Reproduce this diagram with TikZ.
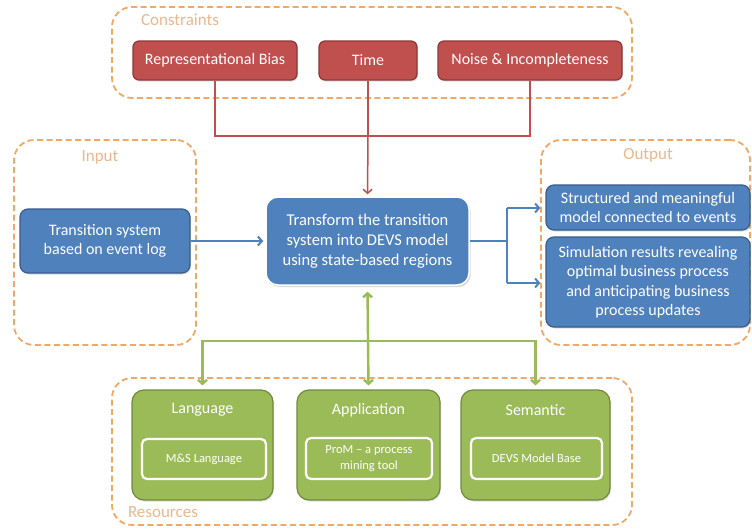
\documentclass[tikz,border=0pt]{standalone}
\usepackage{fontspec}
\setmainfont{Carlito}
\usetikzlibrary{arrows.meta,shadows}
\definecolor{redF}{HTML}{C0504D}
\definecolor{redD}{HTML}{8C3836}
\definecolor{blueF}{HTML}{4F81BD}
\definecolor{blueD}{HTML}{385D8A}
\definecolor{greenF}{HTML}{9BBB59}
\definecolor{greenD}{HTML}{71893F}
\definecolor{orangeD}{HTML}{F0A864}
\definecolor{labelC}{HTML}{E8B890}
\tikzset{
  container/.style={draw=orangeD, line width=1.8pt, dash pattern=on 6pt off 3.5pt, rounded corners=20pt},
  ctitle/.style={text=labelC, font=\fontsize{17}{19}\selectfont, inner sep=0pt},
  redbox/.style={draw=redD, fill=redF, line width=1.2pt, rounded corners=6pt, text=white, font=\fontsize{16}{18}\selectfont, drop shadow={opacity=0.25,shadow xshift=1pt,shadow yshift=-1.5pt}},
  bluebox/.style={draw=blueD, fill=blueF, line width=1.2pt, rounded corners=8pt, text=white, font=\fontsize{16}{19.5}\selectfont, align=center, inner sep=1pt, drop shadow={opacity=0.25,shadow xshift=1pt,shadow yshift=-1.5pt}},
  centerbox/.style={draw=white, fill=blueF, line width=1.5pt, rounded corners=12pt, text=white, font=\fontsize{16.5}{20}\selectfont, align=center, drop shadow={opacity=0.3,shadow xshift=1.5pt,shadow yshift=-2pt}},
  greenbox/.style={draw=greenD, fill=greenF, line width=1.2pt, rounded corners=12pt, drop shadow={opacity=0.25,shadow xshift=1pt,shadow yshift=-1.5pt}},
  innerbox/.style={draw=white, fill=greenF, line width=2.2pt, rounded corners=5pt, text=white, font=\fontsize{12.5}{16}\selectfont, align=center, inner sep=1pt},
  gtitle/.style={text=white, font=\fontsize{16}{18}\selectfont, inner sep=0pt},
  redline/.style={draw=redF, line width=1.5pt},
  blueline/.style={draw=blueF, line width=2pt},
  greenline/.style={draw=greenF, line width=2.4pt},
  tip/.style={-{Straight Barb[length=4pt,width=9pt]}},
  bitip/.style={{Straight Barb[length=4pt,width=9pt]}-{Straight Barb[length=4pt,width=9pt]}},
}
\begin{document}
\begin{tikzpicture}[x=1pt,y=-1pt]
\useasboundingbox (0,0) rectangle (752,530);
\fill[white] (0,0) rectangle (752,530);

% containers
\node[container, minimum width=520pt, minimum height=91pt] (cons) at (372,52.5) {};
\node[container, minimum width=182pt, minimum height=205pt] (inp) at (105,242.5) {};
\node[container, minimum width=209pt, minimum height=205pt] (outp) at (645.5,242.5) {};
\node[container, minimum width=520pt, minimum height=147pt] (res) at (372,451.5) {};

\node[ctitle] (tcons) at (180,20) {Constraints};
\node[ctitle] (tinp) at (100,157) {Input};
\node[ctitle] (toutp) at (648,155) {Output};
\node[ctitle] (tres) at (163,512) {Resources};

% red boxes
\node[redbox, minimum width=164pt, minimum height=39pt] (rb) at (215,60.5) {Representational Bias};
\node[redbox, minimum width=98pt, minimum height=39pt] (time) at (368,60.5) {Time};
\node[redbox, minimum width=184pt, minimum height=39pt] (noise) at (530,60.5) {Noise \& Incompleteness};

% blue boxes
\node[bluebox, minimum width=170pt, minimum height=64pt] (ts) at (105,241) {Transition system\\based on event log};
\node[centerbox, minimum width=203pt, minimum height=88pt] (ctr) at (367.5,241) {Transform the transition\\system into DEVS model\\using state-based regions};
\node[bluebox, minimum width=204pt, minimum height=45pt] (o1) at (648,207.5) {Structured and meaningful\\model connected to events};
\node[bluebox, minimum width=204pt, minimum height=90pt] (o2) at (648,282) {Simulation results revealing\\optimal business process\\and anticipating business\\process updates};

% green boxes
\node[greenbox, minimum width=141pt, minimum height=110pt] (lang) at (202.5,445) {};
\node[greenbox, minimum width=143pt, minimum height=110pt] (app) at (368.5,445) {};
\node[greenbox, minimum width=149pt, minimum height=110pt] (sem) at (535.5,445) {};
\node[gtitle] (tlang) at (202.5,410) {Language};
\node[gtitle] (tapp) at (368.5,410) {Application};
\node[gtitle] (tsem) at (535.5,410) {Semantic};
\node[innerbox, minimum width=124pt, minimum height=40pt] (ms) at (204,459) {M\&S Language};
\node[innerbox, minimum width=126pt, minimum height=41pt] (prom) at (369,458.5) {ProM -- a process\\mining tool};
\node[innerbox, minimum width=131pt, minimum height=41pt] (devs) at (536.5,458.5) {DEVS Model Base};

% red connectors
\coordinate (rj) at (368,136);
\draw[redline] (rb.south) -- (rb.south |- rj) -- (noise.south |- rj) -- (noise.south);
\draw[redline] (time.south) -- (rj);
\draw[redline, tip] (rj) -- ([yshift=2pt]ctr.north);

% blue connectors
\draw[blueline, tip] (ts.east) -- ([xshift=-2pt]ctr.west);
\coordinate (bj) at (507,241);
\coordinate (bt) at (507,208);
\coordinate (bb) at (507,283);
\draw[blueline] (ctr.east) -- (bj);
\draw[blueline] (bt) -- (bb);
\draw[blueline, tip] (bt) -- ([xshift=-5pt]o1.west |- bt);
\draw[blueline, tip] (bb) -- ([xshift=-5pt]o2.west |- bb);

% green connectors
\coordinate (gj) at (368.5,341);
\draw[greenline, bitip] ([yshift=-6pt]ctr.south) -- ([yshift=4pt]app.north);
\draw[greenline, tip] (gj) -- (lang.north |- gj) -- ([yshift=4pt]lang.north);
\draw[greenline, tip] (gj) -- (sem.north |- gj) -- ([yshift=4pt]sem.north);
\end{tikzpicture}
\end{document}
